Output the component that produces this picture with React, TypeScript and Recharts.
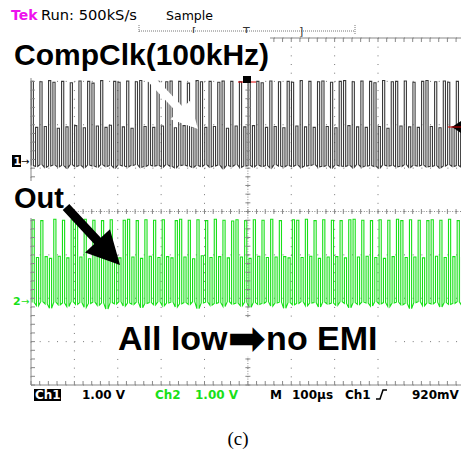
import React from "react"
import { ComposedChart, Line, XAxis, YAxis, CartesianGrid } from "recharts"

// scope screen: 10 x 8 divisions, 100 µs/div, 1 V/div on both channels
const timeTicks = [0, 100, 200, 300, 400, 500, 600, 700, 800, 900, 1000]
const divTicks = [0, 1, 2, 3, 4, 5, 6, 7, 8]

const PERIOD = 10 // µs, 100 kHz clock
const CH1_ZERO = 5.16 // divisions from bottom
const CH2_ZERO = 1.95

// pulse tops per clock cycle (V)
const ch1Peaks = [
  1.84, 0.78, 1.83, 0.8, 1.86, 1.82, 0.76, 1.84, 0.79, 1.81,
  0.82, 1.85, 0.77, 1.84, 1.8, 0.81, 1.86, 0.78, 0.83, 1.84,
  1.82, 0.79, 1.85, 0.76, 1.83, 1.86, 0.8, 1.82, 0.78, 1.84,
  0.81, 1.83, 1.85, 0.77, 1.84, 0.82, 1.8, 0.79, 1.86, 1.83,
  0.78, 1.84, 0.8, 1.82, 1.85, 0.76, 1.84, 0.81, 1.83, 0.79,
  1.86, 0.82, 1.84, 1.81, 0.78, 1.85, 0.8, 1.83, 0.77, 1.84,
  1.82, 0.81, 1.86, 0.79, 1.84, 0.78, 1.83, 1.85, 0.8, 1.82,
  0.77, 1.84, 1.86, 0.82, 1.83, 0.79, 1.85, 0.78, 1.84, 1.81,
  0.8, 1.86, 0.76, 1.83, 1.84, 0.81, 1.85, 0.79, 1.82, 0.78,
  1.84, 1.86, 0.8, 1.83, 0.77, 1.85, 1.82, 0.79, 1.84, 0.81,
]

const ch1Lows = [
  -0.1, -0.12, -0.08, -0.14, -0.11, -0.09, -0.13, -0.1, -0.15, -0.08,
  -0.12, -0.1, -0.14, -0.09, -0.11, -0.13, -0.08, -0.12, -0.1, -0.15,
  -0.09, -0.11, -0.13, -0.1, -0.08, -0.14, -0.12, -0.09, -0.11, -0.1,
  -0.13, -0.08, -0.12, -0.15, -0.1, -0.09, -0.11, -0.14, -0.1, -0.12,
  -0.08, -0.13, -0.11, -0.09, -0.16, -0.1, -0.12, -0.08, -0.14, -0.11,
  -0.1, -0.13, -0.09, -0.12, -0.1, -0.15, -0.08, -0.11, -0.13, -0.1,
  -0.12, -0.09, -0.14, -0.11, -0.1, -0.08, -0.13, -0.12, -0.1, -0.15,
  -0.09, -0.11, -0.12, -0.1, -0.14, -0.08, -0.13, -0.11, -0.1, -0.12,
  -0.15, -0.09, -0.11, -0.1, -0.13, -0.12, -0.08, -0.14, -0.1, -0.11,
  -0.09, -0.13, -0.12, -0.1, -0.15, -0.11, -0.08, -0.12, -0.1, -0.13,
]

const ch2Peaks = [
  1.86, 0.99, 1.84, 1.01, 0.97, 1.87, 1.02, 1.85, 0.98, 1.86,
  1.83, 1.0, 1.87, 0.96, 1.85, 1.02, 1.84, 0.99, 1.86, 1.01,
  0.98, 1.85, 1.87, 1.0, 1.84, 0.97, 1.86, 1.02, 1.85, 0.99,
  1.86, 1.01, 0.98, 1.84, 1.87, 1.0, 1.85, 0.96, 1.86, 1.03,
  1.84, 0.99, 1.87, 1.01, 1.85, 0.98, 1.83, 1.86, 1.0, 1.84,
  0.97, 1.86, 1.02, 1.85, 0.99, 1.87, 1.0, 1.84, 1.01, 0.98,
  1.86, 1.85, 0.99, 1.87, 1.02, 1.84, 0.97, 1.86, 1.0, 1.85,
  1.01, 1.84, 0.98, 1.86, 1.87, 1.0, 1.85, 1.02, 1.84, 0.99,
  1.86, 0.97, 1.85, 1.01, 1.87, 1.84, 0.99, 1.86, 1.0, 1.85,
  0.98, 1.84, 1.86, 1.02, 1.85, 0.99, 1.87, 1.01, 1.84, 1.0,
]

const ch2Lows = [
  -0.05, -0.12, -0.03, -0.08, -0.18, -0.04, -0.1, -0.06, -0.14, -0.03,
  -0.09, -0.05, -0.16, -0.07, -0.04, -0.11, -0.06, -0.2, -0.05, -0.08,
  -0.03, -0.13, -0.06, -0.09, -0.04, -0.17, -0.07, -0.05, -0.1, -0.03,
  -0.12, -0.06, -0.04, -0.15, -0.08, -0.05, -0.09, -0.03, -0.19, -0.06,
  -0.04, -0.11, -0.07, -0.05, -0.14, -0.03, -0.08, -0.06, -0.12, -0.04,
  -0.16, -0.05, -0.09, -0.07, -0.03, -0.13, -0.06, -0.04, -0.18, -0.05,
  -0.1, -0.07, -0.03, -0.12, -0.06, -0.05, -0.15, -0.04, -0.08, -0.06,
  -0.11, -0.03, -0.07, -0.17, -0.05, -0.09, -0.04, -0.06, -0.13, -0.03,
  -0.08, -0.05, -0.14, -0.06, -0.04, -0.1, -0.07, -0.19, -0.05, -0.03,
  -0.12, -0.06, -0.08, -0.04, -0.15, -0.05, -0.09, -0.07, -0.03, -0.11,
]

// square wave: rise, hold, fall for every cycle
const buildTrace = (peaks: number[], lows: number[], zero: number, phase: number) => {
  const pts: { t: number; v: number }[] = []
  peaks.forEach((p, i) => {
    const t0 = i * PERIOD + phase
    const lo = zero + lows[i]
    const hi = zero + p
    pts.push({ t: t0, v: lo }, { t: t0, v: hi }, { t: t0 + PERIOD / 2, v: hi }, { t: t0 + PERIOD / 2, v: lo })
  })
  return pts
}

const ch1Trace = buildTrace(ch1Peaks, ch1Lows, CH1_ZERO, 0.5)
const ch2Trace = buildTrace(ch2Peaks, ch2Lows, CH2_ZERO, 2.5)

const W = 461
const H = 454
const CHART_W = 470
const LEFT = 31
const TOP = 38
const DIV = 43.375
const PW = DIV * 10
const PH = DIV * 8
const GRAT = "#888"
const GREEN = "#18e018"

const arrow = (x1: number, y1: number, x2: number, y2: number, shaft: number, headLen: number, headW: number) => {
  const L = Math.hypot(x2 - x1, y2 - y1)
  const ux = (x2 - x1) / L
  const uy = (y2 - y1) / L
  const nx = -uy
  const ny = ux
  const bx = x2 - ux * headLen
  const by = y2 - uy * headLen
  const p = [
    [x1 + (nx * shaft) / 2, y1 + (ny * shaft) / 2],
    [bx + (nx * shaft) / 2, by + (ny * shaft) / 2],
    [bx + (nx * headW) / 2, by + (ny * headW) / 2],
    [x2, y2],
    [bx - (nx * headW) / 2, by - (ny * headW) / 2],
    [bx - (nx * shaft) / 2, by - (ny * shaft) / 2],
    [x1 - (nx * shaft) / 2, y1 - (ny * shaft) / 2],
  ]
  return p.map((q) => q.join(",")).join(" ")
}

const Graticule = () => {
  const minor = DIV / 5
  const ticks: React.ReactNode[] = []
  const cx = LEFT + PW / 2
  const cy = TOP + PH / 2
  for (let k = 0; k <= 50; k++) {
    const x = LEFT + k * minor
    ticks.push(<line key={`t${k}`} x1={x} y1={TOP} x2={x} y2={TOP + 4} />)
    ticks.push(<line key={`b${k}`} x1={x} y1={TOP + PH - 4} x2={x} y2={TOP + PH} />)
    ticks.push(<line key={`c${k}`} x1={x} y1={cy - 2.5} x2={x} y2={cy + 2.5} />)
  }
  for (let k = 0; k <= 40; k++) {
    const y = TOP + k * minor
    ticks.push(<line key={`l${k}`} x1={LEFT} y1={y} x2={LEFT + 4} y2={y} />)
    ticks.push(<line key={`m${k}`} x1={cx - 2.5} y1={y} x2={cx + 2.5} y2={y} />)
  }
  return (
    <g stroke={GRAT} strokeWidth={1}>
      <line x1={LEFT} y1={TOP} x2={LEFT + PW} y2={TOP} />
      <line x1={LEFT} y1={TOP + PH} x2={LEFT + PW} y2={TOP + PH} />
      <line x1={LEFT} y1={TOP} x2={LEFT} y2={TOP + PH} />
      <line x1={LEFT} y1={cy} x2={LEFT + PW} y2={cy} strokeDasharray="1 1.6" />
      <line x1={cx} y1={TOP} x2={cx} y2={TOP + PH} strokeDasharray="1 1.6" />
      {ticks}
    </g>
  )
}

const mono = "'DejaVu Sans', Verdana, sans-serif"
const bold = "'Liberation Sans', Arial, 'DejaVu Sans', sans-serif"

export default function App() {
  return (
    <div style={{ position: "absolute", left: 0, top: 0, width: W, height: H, overflow: "hidden", background: "#fff" }}>
      <ComposedChart
        width={CHART_W}
        height={H}
        margin={{ top: TOP, left: LEFT, right: CHART_W - LEFT - PW, bottom: H - TOP - PH }}
      >
        <XAxis type="number" dataKey="t" domain={[0, 1000]} ticks={timeTicks} hide />
        <YAxis type="number" domain={[0, 8]} ticks={divTicks} hide />
        <CartesianGrid stroke="#777" strokeDasharray={`1 ${DIV / 5 - 1}`} />
        <Line data={ch1Trace} dataKey="v" stroke="#3a3a3a" strokeWidth={1.1} dot={false} isAnimationActive={false} />
        <Line data={ch2Trace} dataKey="v" stroke={GREEN} strokeWidth={1.1} dot={false} isAnimationActive={false} />
      </ComposedChart>
      <svg width={W} height={H} style={{ position: "absolute", left: 0, top: 0 }}>
        <Graticule />

        {/* header */}
        <text x={11} y={20} fontFamily={mono} fontSize={14} fontWeight="bold" fill="#ee10ee">Tek</text>
        <text x={41} y={20} fontFamily={mono} fontSize={14} fill="#000" textLength={96} lengthAdjust="spacingAndGlyphs">Run: 500kS/s</text>
        <text x={166} y={20} fontFamily={mono} fontSize={13} fill="#000" textLength={47} lengthAdjust="spacingAndGlyphs">Sample</text>
        <g stroke="#777" strokeWidth={1}>
          <line x1={139} y1={31} x2={355} y2={31} strokeDasharray="1 1" />
          <line x1={139} y1={25} x2={139} y2={35} strokeDasharray="1 1" />
          <line x1={355} y1={25} x2={355} y2={35} strokeDasharray="1 1" />
        </g>
        <g fontFamily={mono} fontSize={11} fill="#333">
          <text x={192} y={35}>[</text>
          <text x={243} y={35}>T</text>
          <text x={299} y={35}>]</text>
        </g>

        {/* label backgrounds */}
        <rect x={0} y={33} width={270} height={45} fill="#fff" />
        <rect x={0} y={181} width={68} height={37} fill="#fff" />
        <rect x={101} y={318} width={292} height={38} fill="#fff" />

        {/* trigger markers */}
        <line x1={238} y1={82} x2={256} y2={82} stroke="#d00" strokeWidth={1} />
        <rect x={243} y={76} width={8} height={7} fill="#000" />
        <polygon points="452,127 461,121 461,133" fill="#000" />
        <line x1={448} y1={127} x2={461} y2={127} stroke="#d00" strokeWidth={1} />

        {/* channel ground markers */}
        <rect x={12} y={155} width={9} height={12} fill="#000" />
        <text x={13.5} y={165} fontFamily={mono} fontSize={11} fontWeight="bold" fill="#fff">1</text>
        <text x={21} y={165} fontFamily={mono} fontSize={10} fill="#000">→</text>
        <text x={13} y={305} fontFamily={mono} fontSize={11} fontWeight="bold" fill={GREEN}>2</text>
        <text x={21} y={305} fontFamily={mono} fontSize={10} fill={GREEN}>→</text>

        {/* annotations */}
        <polygon points={arrow(151, 79, 198, 129, 8, 26, 27)} fill="#fff" />
        <polygon points={arrow(66, 207, 120, 265, 9, 33, 34)} fill="#000" />
        <text x={14} y={65} fontFamily={bold} fontSize={30} fontWeight="bold" fill="#000">CompClk(100kHz)</text>
        <text x={14} y={208} fontFamily={bold} fontSize={29} fontWeight="bold" fill="#000">Out</text>
        <text x={118} y={350} fontFamily={bold} fontSize={34} fontWeight="bold" fill="#000">
          All low
          <tspan fontFamily={mono} fontSize={46} dy={4}>➡</tspan>
          <tspan dy={-4}>no EMI</tspan>
        </text>

        {/* status bar */}
        <rect x={34} y={389} width={27} height={12} fill="#000" />
        <g fontFamily={mono} fontSize={12} fontWeight="bold">
          <text x={35} y={399} fill="#fff">Ch1</text>
          <text x={82} y={399} fill="#000">1.00 V</text>
          <text x={155} y={399} fill={GREEN}>Ch2</text>
          <text x={195} y={399} fill={GREEN}>1.00 V</text>
          <text x={270} y={399} fill="#000">M</text>
          <text x={292} y={399} fill="#000">100µs</text>
          <text x={345} y={399} fill="#000">Ch1</text>
          <text x={412} y={399} fill="#000">920mV</text>
        </g>
        <path d="M376,399 L380,399 L383,390 L387,390" stroke="#000" strokeWidth={1.5} fill="none" />

        <text x={238} y={445} textAnchor="middle" fontFamily="'Liberation Serif', 'Times New Roman', serif" fontSize={19} fill="#000">(c)</text>
      </svg>
    </div>
  )
}
